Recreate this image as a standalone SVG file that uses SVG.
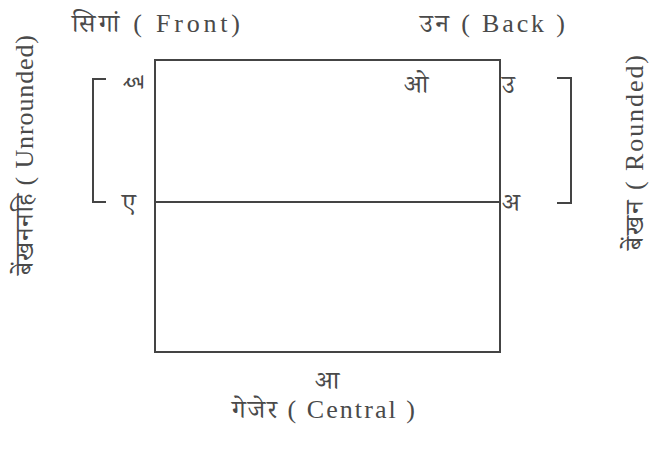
<svg xmlns="http://www.w3.org/2000/svg" width="667" height="455" viewBox="0 0 667 455">
<style>
text{font-family:"Liberation Serif","Noto Serif Devanagari","Noto Sans Devanagari","Noto Sans",serif;fill:#4a4a4a;font-size:26px}
.ln{stroke:#444;stroke-width:2;fill:none}
</style>
<rect width="667" height="455" fill="#fff"/>
<g id="chart">
<rect class="ln" x="155" y="60" width="345" height="292"/>
<line class="ln" x1="155" y1="202" x2="500" y2="202"/>
</g>
<g id="brackets">
<polyline class="ln" points="106,79 93,79 93,202 106,202"/>
<polyline class="ln" points="557,78 571,78 571,203 557,203"/>
</g>
<g id="labels">
<text x="72" y="32" textLength="168" lengthAdjust="spacing">सिगां ( Front)</text>
<text x="420" y="32" textLength="145" lengthAdjust="spacing">उन ( Back )</text>
<text x="404" y="93" font-size="29">ओ</text>
<text x="502" y="93" font-size="29">उ</text>
<text x="502" y="211" font-size="29">अ</text>
<text x="122" y="211" font-size="29">ए</text>
<text transform="translate(127,82) rotate(90)" text-anchor="middle" font-size="21">इ</text>
<text x="327" y="389" text-anchor="middle" font-size="30">आ</text>
<text x="232" y="418" textLength="183" lengthAdjust="spacing">गेजेर ( Central )</text>
<text transform="translate(33,275) rotate(-90)" font-size="21" textLength="240" lengthAdjust="spacing">बेंखननहि ( Unrounded)</text>
<text transform="translate(643,250) rotate(-90)" font-size="21" textLength="195" lengthAdjust="spacing">बेंखन ( Rounded)</text>
</g>
</svg>
